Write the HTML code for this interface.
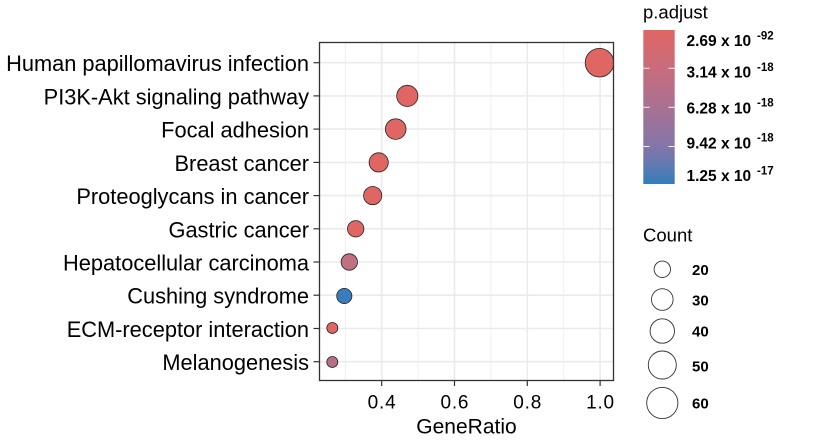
<!DOCTYPE html>
<html>
<head>
<meta charset="utf-8">
<style>
html,body{margin:0;padding:0;background:#fff;}
svg{display:block;}
text{font-family:"Liberation Sans",Arial,sans-serif;fill:#000;}
</style>
</head>
<body>
<svg width="817" height="448" viewBox="0 0 817 448" xmlns="http://www.w3.org/2000/svg">
<defs>
<linearGradient id="cb" x1="0" y1="0" x2="0" y2="1">
<stop offset="0" stop-color="#E06663"/>
<stop offset="0.25" stop-color="#C86C7C"/>
<stop offset="0.5" stop-color="#A97192"/>
<stop offset="0.75" stop-color="#8675A8"/>
<stop offset="0.875" stop-color="#6279B2"/>
<stop offset="1" stop-color="#327EBA"/>
</linearGradient>
<clipPath id="pc"><rect x="319.5" y="42.5" width="294" height="338"/></clipPath>
</defs>

<rect x="319.5" y="42.5" width="294" height="338" fill="#fff"/>

<g stroke="#EEEEEE" stroke-width="0.9">
<line x1="345.3" y1="42.5" x2="345.3" y2="380.5"/>
<line x1="418.1" y1="42.5" x2="418.1" y2="380.5"/>
<line x1="490.9" y1="42.5" x2="490.9" y2="380.5"/>
<line x1="563.7" y1="42.5" x2="563.7" y2="380.5"/>
</g>
<g stroke="#EBEBEB" stroke-width="1.6">
<line x1="381.7" y1="42.5" x2="381.7" y2="380.5"/>
<line x1="454.5" y1="42.5" x2="454.5" y2="380.5"/>
<line x1="527.3" y1="42.5" x2="527.3" y2="380.5"/>
<line x1="600.1" y1="42.5" x2="600.1" y2="380.5"/>
<line x1="319.5" y1="62.7" x2="613.5" y2="62.7"/>
<line x1="319.5" y1="95.9" x2="613.5" y2="95.9"/>
<line x1="319.5" y1="129.1" x2="613.5" y2="129.1"/>
<line x1="319.5" y1="162.4" x2="613.5" y2="162.4"/>
<line x1="319.5" y1="195.6" x2="613.5" y2="195.6"/>
<line x1="319.5" y1="228.8" x2="613.5" y2="228.8"/>
<line x1="319.5" y1="262.0" x2="613.5" y2="262.0"/>
<line x1="319.5" y1="295.2" x2="613.5" y2="295.2"/>
<line x1="319.5" y1="328.5" x2="613.5" y2="328.5"/>
<line x1="319.5" y1="361.7" x2="613.5" y2="361.7"/>
</g>

<g clip-path="url(#pc)" stroke="#222" stroke-width="0.8">
<circle cx="599.5" cy="62.7" r="14.3" fill="#E06663"/>
<circle cx="407.3" cy="95.9" r="10.6" fill="#E06663"/>
<circle cx="395.7" cy="129.1" r="10.3" fill="#E06663"/>
<circle cx="378.7" cy="162.4" r="9.6" fill="#E06663"/>
<circle cx="372.7" cy="195.6" r="9.1" fill="#E06663"/>
<circle cx="355.7" cy="228.8" r="8.2" fill="#E06663"/>
<circle cx="349.3" cy="262.0" r="8.2" fill="#C0707F"/>
<circle cx="344.3" cy="296.0" r="7.6" fill="#3A7DBD"/>
<circle cx="332.3" cy="328.0" r="5.5" fill="#E06663"/>
<circle cx="332.3" cy="362.0" r="5.5" fill="#B56F86"/>
</g>

<rect x="319.5" y="42.5" width="294" height="338" fill="none" stroke="#333" stroke-width="1.3"/>

<g stroke="#333" stroke-width="1.2">
<line x1="313.5" y1="62.7" x2="319.5" y2="62.7"/>
<line x1="313.5" y1="95.9" x2="319.5" y2="95.9"/>
<line x1="313.5" y1="129.1" x2="319.5" y2="129.1"/>
<line x1="313.5" y1="162.4" x2="319.5" y2="162.4"/>
<line x1="313.5" y1="195.6" x2="319.5" y2="195.6"/>
<line x1="313.5" y1="228.8" x2="319.5" y2="228.8"/>
<line x1="313.5" y1="262.0" x2="319.5" y2="262.0"/>
<line x1="313.5" y1="295.2" x2="319.5" y2="295.2"/>
<line x1="313.5" y1="328.5" x2="319.5" y2="328.5"/>
<line x1="313.5" y1="361.7" x2="319.5" y2="361.7"/>
<line x1="381.7" y1="380.5" x2="381.7" y2="386"/>
<line x1="454.5" y1="380.5" x2="454.5" y2="386"/>
<line x1="527.3" y1="380.5" x2="527.3" y2="386"/>
<line x1="600.1" y1="380.5" x2="600.1" y2="386"/>
</g>

<g font-size="21.8" text-anchor="end" fill="#111">
<text x="309" y="71.2">Human papillomavirus infection</text>
<text x="309" y="104.4">PI3K-Akt signaling pathway</text>
<text x="309" y="137.6">Focal adhesion</text>
<text x="309" y="170.9">Breast cancer</text>
<text x="309" y="204.1">Proteoglycans in cancer</text>
<text x="309" y="237.3">Gastric cancer</text>
<text x="309" y="270.5">Hepatocellular carcinoma</text>
<text x="309" y="303.7">Cushing syndrome</text>
<text x="309" y="337.0">ECM-receptor interaction</text>
<text x="309" y="370.2">Melanogenesis</text>
</g>

<g font-size="19" text-anchor="middle" letter-spacing="0.8">
<text x="382.1" y="408.3">0.4</text>
<text x="454.9" y="408.3">0.6</text>
<text x="527.7" y="408.3">0.8</text>
<text x="600.5" y="408.3">1.0</text>
</g>
<text x="466.5" y="433.3" font-size="21" text-anchor="middle">GeneRatio</text>

<text x="643" y="18.5" font-size="18.5">p.adjust</text>
<rect x="643.3" y="30" width="31.4" height="154" fill="url(#cb)"/>
<g stroke="#fff" stroke-width="1" opacity="0.9">
<line x1="643.3" y1="68.3" x2="649.5" y2="68.3"/>
<line x1="668.5" y1="68.3" x2="674.7" y2="68.3"/>
<line x1="643.3" y1="107.3" x2="649.5" y2="107.3"/>
<line x1="668.5" y1="107.3" x2="674.7" y2="107.3"/>
<line x1="643.3" y1="146.5" x2="649.5" y2="146.5"/>
<line x1="668.5" y1="146.5" x2="674.7" y2="146.5"/>
</g>
<g font-size="15.5" font-weight="bold">
<text x="686.5" y="46">2.69 x 10<tspan x="757" y="39.3" font-size="11.5">-92</tspan></text>
<text x="686.5" y="77.7">3.14 x 10<tspan x="757" y="71" font-size="11.5">-18</tspan></text>
<text x="686.5" y="113.3">6.28 x 10<tspan x="757" y="106.5" font-size="11.5">-18</tspan></text>
<text x="686.5" y="148.3">9.42 x 10<tspan x="757" y="141.5" font-size="11.5">-18</tspan></text>
<text x="686.5" y="181">1.25 x 10<tspan x="757" y="174.3" font-size="11.5">-17</tspan></text>
</g>

<text x="643" y="241.7" font-size="18.5">Count</text>
<g fill="none" stroke="#333" stroke-width="0.9">
<circle cx="662.3" cy="269.3" r="8.2"/>
<circle cx="662.3" cy="299.5" r="10.8"/>
<circle cx="662.3" cy="331" r="12.2"/>
<circle cx="662.3" cy="365" r="14"/>
<circle cx="662.3" cy="403" r="15.6"/>
</g>
<g font-size="15" font-weight="bold">
<text x="692" y="275">20</text>
<text x="692" y="305.7">30</text>
<text x="692" y="336.5">40</text>
<text x="692" y="371.3">50</text>
<text x="692" y="408.6">60</text>
</g>
</svg>
</body>
</html>
